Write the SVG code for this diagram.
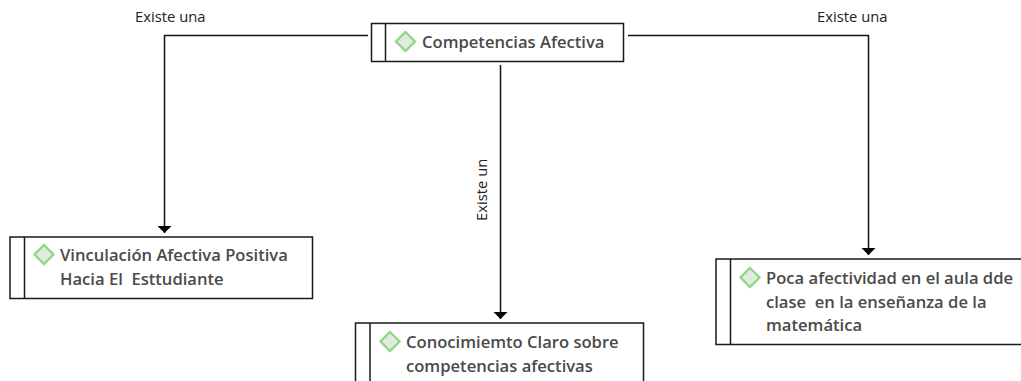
<svg xmlns="http://www.w3.org/2000/svg" width="1021" height="381" viewBox="0 0 1021 381">
<style>
.box{fill:#fff;stroke:#1a1a1a;stroke-width:1.5}
.d{fill:#dfeedb;stroke:#93d68a;stroke-width:2.4}
.t{font-family:"Open Sans","Noto Sans",sans-serif;font-size:16.6px;font-weight:600;fill:#4a4a4a}
.l{font-family:"Open Sans","Noto Sans",sans-serif;font-size:14.8px;fill:#222}
.c{fill:none;stroke:#111;stroke-width:1.5;marker-end:url(#a)}
</style>
<defs><marker id="a" markerUnits="userSpaceOnUse" markerWidth="8" markerHeight="15" refX="7.500" refY="7.500" orient="auto"><path d="M0 0L7.500 7.500L0 15Z" fill="#000"/></marker></defs>
<rect width="1021" height="381" fill="#fff"/>
<g id="connectors">
<path class="c" d="M368 35.500H164.500V233"/>
<path class="c" d="M628 35.500H868.500V255"/>
<path class="c" d="M500.500 65V319"/>
<text class="l" x="135" y="22">Existe una</text>
<text class="l" x="817" y="22">Existe una</text>
<text class="l" transform="translate(487 221) rotate(-90)">Existe un</text>
</g>
<g id="n1"><rect class="box" x="371.500" y="23.500" width="252" height="38"/><path class="box" d="M385.500 23.500V61.500"/><path class="d" d="M405.500 32L415 41.500L405.500 51L396 41.500Z"/><text class="t" x="422" y="48">Competencias Afectiva</text></g>
<g id="n2"><rect class="box" x="10" y="237" width="302.500" height="61.500"/><path class="box" d="M24.500 237V298.500"/><path class="d" d="M44 245L53.500 254.500L44 264L34.500 254.500Z"/><text class="t" x="60" y="261">Vinculación Afectiva Positiva</text><text class="t" x="60" y="285" xml:space="preserve">Hacia El  Esttudiante</text></g>
<g id="n3"><rect class="box" x="355.500" y="323" width="288" height="70"/><path class="box" d="M370 323V393"/><path class="d" d="M390 332L399.500 341.500L390 351L380.500 341.500Z"/><text class="t" x="406" y="348">Conocimiemto Claro sobre</text><text class="t" x="406" y="372">competencias afectivas</text></g>
<g id="n4"><rect class="box" x="716" y="259" width="320" height="85.500"/><path class="box" d="M730.500 259V344.500"/><path class="d" d="M750 268L759.500 277.500L750 287L740.500 277.500Z"/><text class="t" x="766" y="284">Poca afectividad en el aula dde</text><text class="t" x="766" y="308" xml:space="preserve">clase  en la enseñanza de la</text><text class="t" x="766" y="331">matemática</text></g>
</svg>
